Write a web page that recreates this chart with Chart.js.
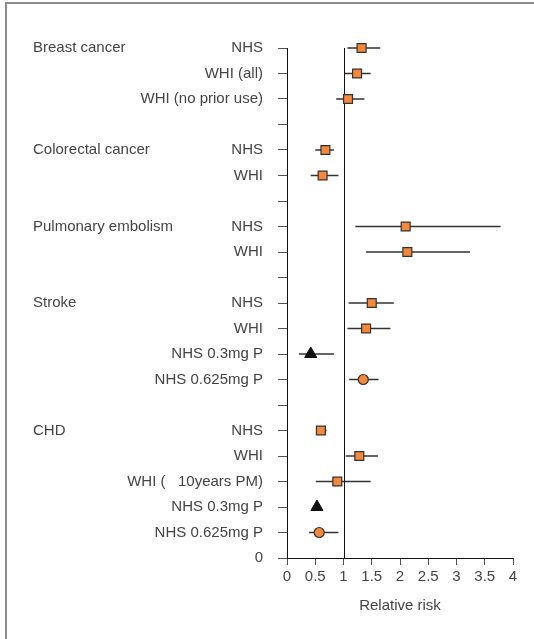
<!DOCTYPE html>
<html>
<head>
<meta charset="utf-8">
<script src="https://cdn.jsdelivr.net/npm/chart.js@4.4.1/dist/chart.umd.min.js"></script>
<style>
  html, body { margin: 0; padding: 0; background: #fff; overflow: hidden; }
  #wrap { position: relative; width: 534px; height: 639px; overflow: hidden; }
  #frame { position: absolute; left: 5px; top: 2px; width: 600px; height: 700px;
           border-left: 2px solid #8c8c8c; border-top: 2px solid #8c8c8c; }
  canvas { position: absolute; left: 0; top: 0; }
</style>
</head>
<body>
<div id="wrap">
  <div id="frame"></div>
  <canvas id="myChart" width="534" height="639"></canvas>
</div>
<script>
// rows listed top to bottom, last one is the bottom "0" tick
var rowLabels = ['NHS', 'WHI (all)', 'WHI (no prior use)', '',
    'NHS', 'WHI', '',
    'NHS', 'WHI', '',
    'NHS', 'WHI', 'NHS 0.3mg P', 'NHS 0.625mg P', '',
    'NHS', 'WHI', 'WHI (   10years PM)', 'NHS 0.3mg P', 'NHS 0.625mg P', '0'];
var relRisk = [1.32, 1.24, 1.08, null, 0.68, 0.63, null, 2.10, 2.13, null,
    1.50, 1.40, 0.42, 1.35, null, 0.60, 1.28, 0.89, 0.53, 0.57, null];
var ciLow = [1.07, 1.02, 0.87, null, 0.50, 0.42, null, 1.21, 1.40, null,
    1.09, 1.07, 0.21, 1.10, null, 0.53, 1.04, 0.51, 0.47, 0.39, null];
var ciHigh = [1.65, 1.48, 1.37, null, 0.83, 0.91, null, 3.78, 3.24, null,
    1.89, 1.83, 0.83, 1.62, null, 0.70, 1.61, 1.48, 0.60, 0.91, null];
// s = square, t = triangle, c = circle
var markerKind = ['s', 's', 's', '', 's', 's', '', 's', 's', '',
    's', 's', 't', 'c', '', 's', 's', 's', 't', 'c', ''];
var groupNames = ['Breast cancer', 'Colorectal cancer', 'Pulmonary embolism', 'Stroke', 'CHD'];
var groupRows = [0, 4, 7, 10, 15];
var xTicks = [0, 0.5, 1, 1.5, 2, 2.5, 3, 3.5, 4];

var topRow = rowLabels.length - 1;
var textColor = '#444';
var orange = '#f5883a';
var fontFamily = '"Liberation Sans", Arial, sans-serif';

function rowY(i) { return topRow - i; }

var squares = [], triangles = [], circles = [], bars = [];
relRisk.forEach(function (v, i) {
    if (v === null) return;
    var p = { x: v, y: rowY(i) };
    if (markerKind[i] === 's') squares.push(p);
    if (markerKind[i] === 't') triangles.push(p);
    if (markerKind[i] === 'c') circles.push(p);
    bars.push({ lo: ciLow[i], hi: ciHigh[i], y: rowY(i) });
});

// confidence interval lines, drawn through the scales
var errorBars = {
    id: 'errorBars',
    beforeDatasetsDraw: function (chart) {
        var ctx = chart.ctx, xs = chart.scales.x, ys = chart.scales.y;
        ctx.save();
        ctx.strokeStyle = '#333';
        ctx.lineWidth = 1.5;
        bars.forEach(function (b) {
            var py = ys.getPixelForValue(b.y);
            ctx.beginPath();
            ctx.moveTo(xs.getPixelForValue(b.lo), py);
            ctx.lineTo(xs.getPixelForValue(b.hi), py);
            ctx.stroke();
        });
        // reference line at RR = 1
        ctx.strokeStyle = '#111';
        ctx.lineWidth = 1;
        var px = Math.round(xs.getPixelForValue(1)) + 0.5;
        ctx.beginPath();
        ctx.moveTo(px, ys.getPixelForValue(topRow));
        ctx.lineTo(px, ys.getPixelForValue(0));
        ctx.stroke();
        ctx.restore();
    }
};

var groupLabels = {
    id: 'groupLabels',
    afterDraw: function (chart) {
        var ctx = chart.ctx, ys = chart.scales.y;
        ctx.save();
        ctx.fillStyle = textColor;
        ctx.font = '15px ' + fontFamily;
        ctx.textAlign = 'left';
        ctx.textBaseline = 'middle';
        groupNames.forEach(function (g, k) {
            ctx.fillText(g, 33, ys.getPixelForValue(rowY(groupRows[k])));
        });
        ctx.restore();
    }
};

var ctx = document.getElementById('myChart');

var forest = new Chart(ctx, {
    type: 'scatter',
    data: {
        datasets: [{
            data: squares,
            pointStyle: 'rect',
            pointRadius: 6.3,
            backgroundColor: orange,
            borderColor: '#333',
            borderWidth: 1.2,
            clip: false
        }, {
            data: triangles,
            pointStyle: 'triangle',
            pointRadius: 7,
            backgroundColor: '#111',
            borderColor: '#111',
            borderWidth: 1,
            clip: false
        }, {
            data: circles,
            pointStyle: 'circle',
            pointRadius: 5,
            backgroundColor: orange,
            borderColor: '#333',
            borderWidth: 1.2,
            clip: false
        }]
    },
    options: {
        responsive: false,
        animation: false,
        layout: { padding: { top: 48, right: 21, bottom: 0, left: 0 } },
        plugins: { legend: { display: false }, tooltip: { enabled: false } },
        scales: {
            x: {
                type: 'linear',
                min: 0,
                max: 4,
                afterBuildTicks: function (s) {
                    s.ticks = xTicks.map(function (v) { return { value: v }; });
                },
                afterFit: function (s) { s.height = 81; },
                ticks: {
                    color: textColor,
                    font: { family: fontFamily, size: 15 },
                    padding: 3,
                    autoSkip: false,
                    maxRotation: 0,
                    callback: function (v) { return String(v); }
                },
                grid: { drawOnChartArea: false, drawTicks: true, tickLength: 7, color: '#555' },
                border: { display: true, color: '#111', width: 1 },
                title: {
                    display: true,
                    text: 'Relative risk',
                    color: textColor,
                    font: { family: fontFamily, size: 15 },
                    padding: { top: 0, bottom: 24 }
                }
            },
            y: {
                type: 'linear',
                min: 0,
                max: topRow,
                afterBuildTicks: function (s) {
                    s.ticks = rowLabels.map(function (l, i) { return { value: rowY(i) }; });
                },
                afterFit: function (s) { s.width = 287; },
                ticks: {
                    color: textColor,
                    font: { family: fontFamily, size: 15 },
                    padding: 15,
                    autoSkip: false,
                    callback: function (v) { return rowLabels[topRow - v]; }
                },
                grid: { drawOnChartArea: false, drawTicks: true, tickLength: 9, color: '#555' },
                border: { display: true, color: '#111', width: 1 }
            }
        }
    },
    plugins: [errorBars, groupLabels]
});
</script>
</body>
</html>
